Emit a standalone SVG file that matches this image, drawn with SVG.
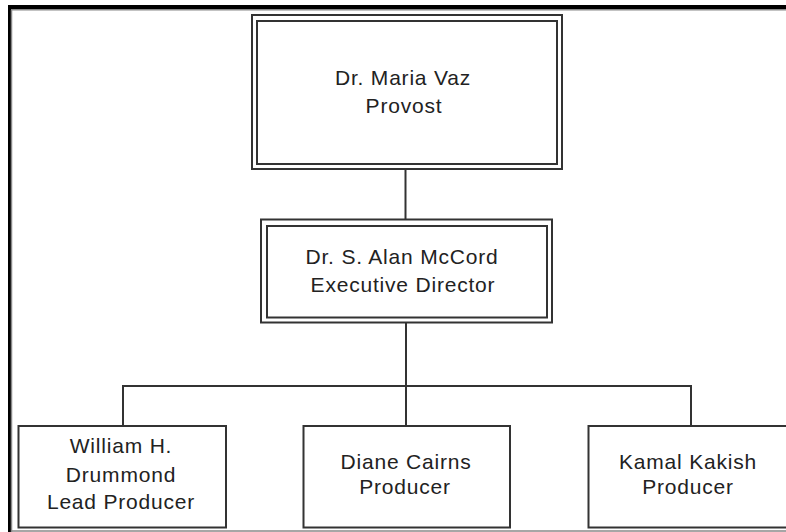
<svg xmlns="http://www.w3.org/2000/svg" width="786" height="532" viewBox="0 0 786 532">
<style>
.box{fill:#fff;stroke:#333;stroke-width:2}
.ln{stroke:#333;stroke-width:2;fill:none}
text{font-family:"Liberation Sans",Arial,sans-serif;font-size:21px;fill:#222;text-anchor:middle;letter-spacing:0.8px}
</style>
<rect x="0" y="0" width="786" height="532" fill="#fff"/>
<g id="frame">
<rect x="8" y="5" width="778" height="4" fill="#000"/>
<rect x="8" y="5" width="3" height="527" fill="#000"/>
<line x1="11.5" y1="10" x2="11.5" y2="532" stroke="#888" stroke-width="1.5"/>
<line x1="11" y1="9.8" x2="786" y2="9.8" stroke="#888" stroke-width="1.5"/>
<line x1="11" y1="531" x2="786" y2="531" stroke="#888" stroke-width="1.5"/>
</g>
<g id="connectors">
<line class="ln" x1="405.5" y1="169" x2="405.5" y2="219"/>
<line class="ln" x1="406" y1="323" x2="406" y2="386"/>
<line class="ln" x1="123" y1="386" x2="691" y2="386"/>
<line class="ln" x1="123" y1="385" x2="123" y2="426"/>
<line class="ln" x1="406" y1="386" x2="406" y2="426"/>
<line class="ln" x1="691" y1="385" x2="691" y2="426"/>
</g>
<g id="provost">
<rect class="box" x="252" y="15" width="310" height="154"/>
<rect class="box" x="257" y="21" width="300" height="143"/>
<text x="403" y="85">Dr. Maria Vaz</text>
<text x="404" y="112.7">Provost</text>
</g>
<g id="director">
<rect class="box" x="261" y="219.5" width="291" height="103"/>
<rect class="box" x="267" y="226" width="280" height="91.5"/>
<text x="402" y="264">Dr. S. Alan McCord</text>
<text x="403" y="291.7">Executive Director</text>
</g>
<g id="drummond">
<rect class="box" x="18.5" y="426" width="207.5" height="101.5"/>
<text x="121" y="453.3">William H.</text>
<text x="121" y="481.7">Drummond</text>
<text x="121" y="509.3">Lead Producer</text>
</g>
<g id="cairns">
<rect class="box" x="303.5" y="426" width="206.5" height="101.5"/>
<text x="406" y="469.3">Diane Cairns</text>
<text x="405" y="494">Producer</text>
</g>
<g id="kakish">
<rect class="box" x="588.5" y="426" width="210" height="101.5"/>
<text x="688" y="469.3">Kamal Kakish</text>
<text x="688" y="494">Producer</text>
</g>
</svg>
